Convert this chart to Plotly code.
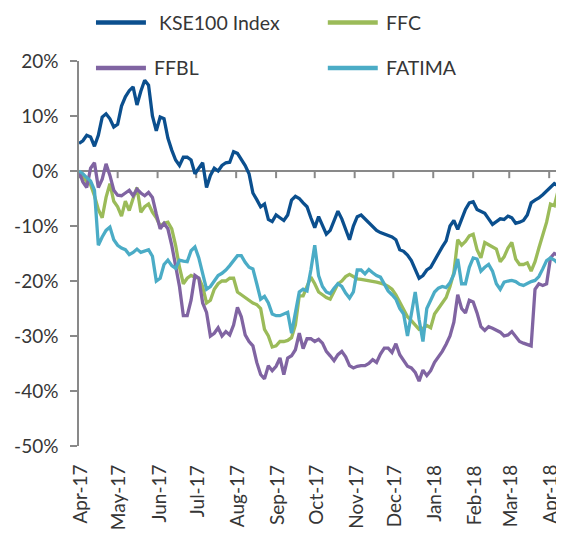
import pandas as pd
import plotly.graph_objects as go

# sampled every 3 days from 1 Apr 2017, cumulative return in %
dates = pd.date_range("2017-04-01", periods=126, freq="3D")

kse100 = [
    5.0, 5.5, 6.5, 6.2, 4.5, 6.5, 9.8, 10.4, 9.5, 8.0,
    8.5, 11.8, 13.5, 14.6, 15.3, 12.0, 14.5, 16.5, 15.6, 10.0,
    7.3, 9.8, 9.5, 6.0, 3.8, 2.0, 1.0, 2.5, 2.5, 2.0,
    -0.5, 0.5, 1.5, -3.0, -0.8, 0.5, 0.0, 1.0, 1.5, 1.6,
    3.5, 3.2, 2.2, 1.0, -0.5, -4.0, -5.2, -6.5, -6.0, -8.8,
    -9.2, -8.0, -8.5, -9.0, -8.0, -5.3, -4.6, -5.0, -5.8, -6.5,
    -8.5, -10.3, -8.3, -9.8, -11.5, -10.8, -9.0, -7.3, -8.7, -10.5,
    -12.5, -10.0, -8.3, -8.0, -8.7, -9.3, -10.0, -10.8, -11.2, -11.5,
    -11.8, -12.0, -12.5, -14.3, -14.6, -15.3, -16.3, -17.9, -19.5, -19.0,
    -18.0, -17.5, -16.2, -14.8, -13.8, -12.7, -10.0, -9.0, -10.6, -8.8,
    -7.0, -5.8, -5.6, -7.0, -7.3, -7.7, -8.7, -9.7, -9.2, -8.7,
    -8.8, -8.2, -8.5, -9.5, -9.3, -9.0, -8.0, -5.8, -5.3, -4.9,
    -4.3, -3.6, -2.8, -2.3, -2.7, -3.9,
]

ffc = [
    0.0, -0.8, -2.0, -2.5, -4.5, -7.0, -8.5, -4.8, -2.3, -5.5,
    -6.5, -8.2, -5.5, -7.2, -5.0, -3.0, -7.5, -6.5, -6.0, -7.5,
    -8.5, -10.0, -9.5, -9.3, -10.5, -13.5, -17.5, -20.5, -19.5, -19.0,
    -19.3, -19.5, -21.0, -24.0, -23.5, -21.5, -20.5, -20.0, -20.0, -19.5,
    -19.5, -22.0, -22.5, -23.0, -23.5, -24.0, -24.3, -25.0, -28.8, -30.0,
    -32.0, -31.8, -31.0, -31.0, -30.8, -30.3, -28.0, -22.7, -22.7, -20.8,
    -19.3, -20.5, -22.0, -22.5, -23.0, -23.3, -22.0, -20.5, -20.0, -19.2,
    -18.8, -19.2, -19.6, -19.7, -19.8, -20.0, -20.0, -20.2, -20.4, -20.6,
    -21.0, -21.5, -22.5, -23.8, -25.2, -26.5, -27.2, -27.9, -28.8, -28.6,
    -28.1, -28.5, -26.0, -25.0, -24.0, -23.0, -21.0, -18.5, -12.5, -13.5,
    -12.8, -11.8, -11.5, -14.3, -15.8, -13.0, -13.4, -13.8, -14.2, -16.5,
    -15.6, -14.0, -13.0, -16.0, -17.0, -17.0, -16.7, -18.2, -16.5, -14.0,
    -11.5, -9.3, -6.0, -6.3, -3.5, -2.0,
]

ffbl = [
    0.0, -2.0, -3.0, 0.5, 1.5, -3.0, -1.5, 1.3, -0.8, -3.5,
    -4.4, -4.5, -4.0, -3.5, -4.5, -3.3, -4.0, -4.5, -3.9, -4.8,
    -7.8, -10.5, -9.5, -10.5, -13.5, -17.5, -21.0, -26.3, -26.3, -23.5,
    -19.0, -19.5, -24.0, -25.7, -30.0, -29.5, -28.5, -30.0, -29.2, -29.8,
    -28.0, -24.8, -26.5, -29.8, -31.0, -31.8, -34.8, -37.0, -37.8, -35.4,
    -36.3, -35.5, -34.0, -37.0, -34.0, -33.6, -32.5, -29.5, -32.3, -30.5,
    -30.5, -31.0, -30.6, -31.3, -32.8, -33.6, -34.5, -33.4, -32.8, -33.8,
    -35.4, -35.8, -35.5, -35.4, -35.4, -35.0, -34.3, -34.8, -33.3, -32.2,
    -32.2, -33.0, -31.4, -33.4, -34.5, -35.5, -35.8, -36.6, -38.2, -36.2,
    -37.2, -36.3, -34.8, -33.8, -32.8, -31.5, -30.0, -27.5, -22.5, -25.0,
    -25.8, -23.5, -23.8, -25.8, -28.3, -29.0, -28.3, -28.6, -29.0, -29.3,
    -30.0, -29.8, -29.2, -30.1, -31.0, -31.3, -31.5, -31.8, -21.5, -20.5,
    -20.8, -20.5, -15.8, -15.0, -15.3, -14.5,
]

fatima = [
    0.0, -0.5, -1.2, -1.8, -3.5, -13.5, -12.0, -10.8, -10.2, -12.5,
    -13.5, -14.0, -14.3, -15.2, -14.8, -14.2, -14.8, -14.5, -14.3, -15.5,
    -20.0, -19.5, -17.0, -16.2, -17.2, -17.7, -16.2, -16.4, -16.5, -14.5,
    -13.8, -15.8, -18.5, -21.5, -21.0, -20.0, -19.0, -18.6, -18.0, -17.2,
    -16.3, -15.4, -15.4, -16.6, -17.5, -17.8, -20.5, -23.3, -22.8, -24.0,
    -26.0, -26.3, -26.3, -26.0, -25.7, -29.5, -26.0, -22.0, -21.5, -21.8,
    -18.0, -13.5, -19.0, -21.0, -22.0, -22.3, -21.3, -20.5, -21.0, -22.2,
    -23.1, -22.0, -18.0, -18.0, -18.7, -17.9, -18.5, -19.0, -19.3, -20.5,
    -21.8, -22.5, -23.3, -25.0, -26.0, -30.0, -26.0, -22.0, -27.0, -31.0,
    -25.0, -23.5, -22.0, -21.3, -21.0, -21.2, -20.3, -18.8, -16.0, -20.5,
    -20.5, -17.5, -15.8, -16.0, -18.2, -17.5, -17.0, -18.2, -20.5, -21.5,
    -20.2, -20.0, -19.9, -20.1, -20.6, -20.8, -20.4, -20.1, -19.9, -19.2,
    -17.8, -16.3, -15.8, -16.2, -16.8, -17.5,
]

series_names = ["KSE100 Index", "FFC", "FFBL", "FATIMA"]
series_values = [kse100, ffc, ffbl, fatima]
series_colors = ["#0B4F8E", "#9BBB59", "#8064A2", "#4BACC6"]

month_ticks = pd.date_range("2017-04-01", periods=13, freq="MS")
month_labels = [d.strftime("%b-%y") for d in month_ticks]

y_ticks = [-50, -40, -30, -20, -10, 0, 10, 20]
y_labels = ["-50%", "-40%", "-30%", "-20%", "-10%", "0%", "10%", "20%"]

axis_grey = "#898989"
text_col = "#363636"
x_range = ["2017-04-01", "2018-04-12 12:00"]

fig = go.Figure()

# category axis crossing at 0%, drawn as plain traces
fig.add_trace(go.Scatter(
    x=[pd.Timestamp(x_range[0]), pd.Timestamp(x_range[1])], y=[0, 0],
    mode="lines", line=dict(color=axis_grey, width=2),
    showlegend=False, hoverinfo="skip",
))
tick_x, tick_y = [], []
for d in month_ticks:
    tick_x += [d, d, None]
    tick_y += [0, -1.3, None]   # ~7px below the 0% line
fig.add_trace(go.Scatter(
    x=tick_x, y=tick_y, mode="lines", line=dict(color=axis_grey, width=2),
    showlegend=False, hoverinfo="skip",
))

for name, vals, col in zip(series_names, series_values, series_colors):
    fig.add_trace(go.Scatter(
        x=dates, y=vals, name=name, mode="lines",
        line=dict(color=col, width=3.3),
        showlegend=False,
    ))

# month labels hang below the plot area
for d, lab in zip(month_ticks, month_labels):
    fig.add_annotation(text=lab, x=d, xref="x", y=0, yref="paper",
                       xanchor="center", yanchor="top", yshift=-17,
                       textangle=-90, showarrow=False,
                       font=dict(size=19, color=text_col))

# hand-drawn legend: 2 rows x 2 columns, paper coords
legend_pos = [  # (line x0, line x1, text x, y)
    (0.035, 0.138, 0.160, 1.100),
    (0.513, 0.616, 0.629, 1.100),
    (0.035, 0.138, 0.150, 0.982),
    (0.513, 0.616, 0.629, 0.982),
]
for name, col, (lx0, lx1, tx, ly) in zip(series_names, series_colors, legend_pos):
    fig.add_shape(type="line", xref="paper", yref="paper", x0=lx0, x1=lx1, y0=ly, y1=ly,
                  line=dict(color=col, width=4.5))
    fig.add_annotation(text=name, xref="paper", yref="paper", x=tx, y=ly,
                       xanchor="left", yanchor="middle", showarrow=False,
                       font=dict(size=19.5, color=text_col))

# page has an 8px body margin, so the figure is 8px smaller and margins shifted
fig.update_layout(
    width=556, height=529,
    margin=dict(l=71, r=0, t=53, b=91),
    paper_bgcolor="white", plot_bgcolor="white",
    font=dict(family="Lato", size=19, color=text_col),
    showlegend=False,
    xaxis=dict(
        type="date", range=x_range, showline=False, ticks="",
        showticklabels=False, showgrid=False, zeroline=False,
    ),
    yaxis=dict(
        range=[-50, 20], showline=True, linecolor=axis_grey, linewidth=1.5,
        ticks="outside", ticklen=7, tickwidth=1.5, tickcolor=axis_grey,
        tickvals=y_ticks, ticktext=y_labels, showgrid=False,
        zeroline=True, zerolinecolor=axis_grey, zerolinewidth=2,
        ticklabelstandoff=8,
    ),
)

fig.write_html("out.html")
